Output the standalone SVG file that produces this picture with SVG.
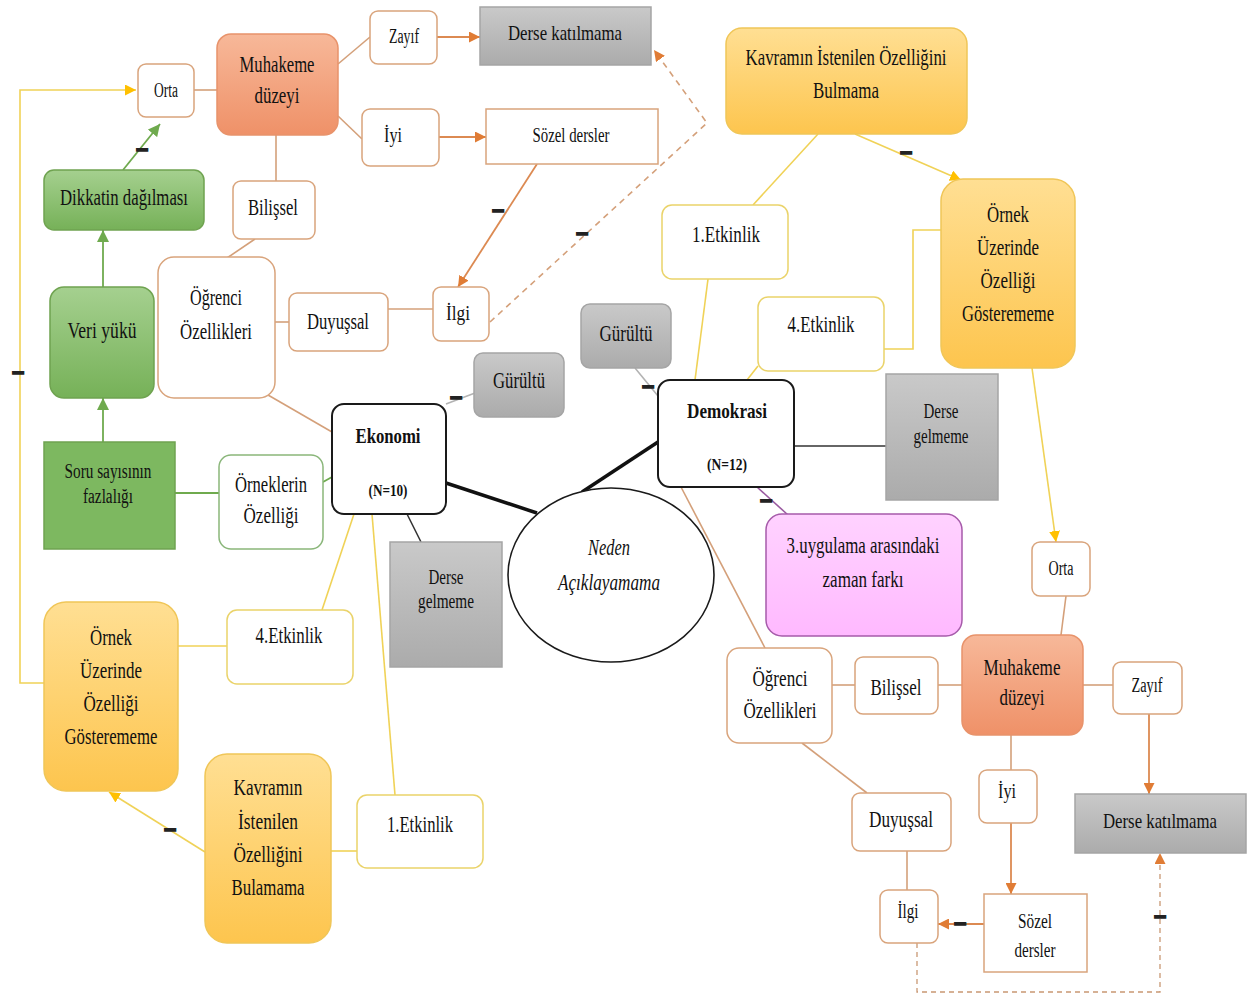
<svg xmlns="http://www.w3.org/2000/svg" width="1253" height="1001" viewBox="0 0 1253 1001">
  <defs>
    <linearGradient id="gold" x1="0" y1="0" x2="0" y2="1">
      <stop offset="0" stop-color="#FFDF93"/>
      <stop offset="1" stop-color="#FDC54E"/>
    </linearGradient>
    <linearGradient id="salmon" x1="0" y1="0" x2="0" y2="1">
      <stop offset="0" stop-color="#F7B899"/>
      <stop offset="1" stop-color="#EF9168"/>
    </linearGradient>
    <linearGradient id="gray" x1="0" y1="0" x2="0" y2="1">
      <stop offset="0" stop-color="#C9C9C9"/>
      <stop offset="1" stop-color="#ABABAB"/>
    </linearGradient>
    <linearGradient id="green" x1="0" y1="0" x2="0" y2="1">
      <stop offset="0" stop-color="#A5D08F"/>
      <stop offset="1" stop-color="#76B158"/>
    </linearGradient>
    <linearGradient id="pink" x1="0" y1="0" x2="0" y2="1">
      <stop offset="0" stop-color="#FFD2FF"/>
      <stop offset="1" stop-color="#FFB9FF"/>
    </linearGradient>
    <marker id="ao" viewBox="0 0 10 10" refX="10" refY="5" markerWidth="11" markerHeight="11" markerUnits="userSpaceOnUse" orient="auto">
      <path d="M0,0 L10,5 L0,10 z" fill="#E07C35"/>
    </marker>
    <marker id="ay" viewBox="0 0 10 10" refX="10" refY="5" markerWidth="11" markerHeight="11" markerUnits="userSpaceOnUse" orient="auto">
      <path d="M0,0 L10,5 L0,10 z" fill="#FFC000"/>
    </marker>
    <marker id="ag" viewBox="0 0 10 10" refX="10" refY="5" markerWidth="12" markerHeight="12" markerUnits="userSpaceOnUse" orient="auto">
      <path d="M0,0 L10,5 L0,10 z" fill="#6FAA4E"/>
    </marker>
    <style>
      .n { stroke-width: 1.5; }
      .w { fill: #fff; stroke: #D9A47C; }
      .y { fill: #fff; stroke: #EAD36A; }
      .gd { fill: url(#gold); stroke: #F0C658; }
      .sal { fill: url(#salmon); stroke: #E8936B; }
      .gr { fill: url(#gray); stroke: #A5A5A5; }
      .grn { fill: url(#green); stroke: #6FA350; }
      .grnf { fill: #7DB860; stroke: #6FA350; }
      .grnw { fill: #fff; stroke: #8AB67A; }
      .pk { fill: url(#pink); stroke: #A65BAA; }
      .k { fill: #fff; stroke: #1a1a1a; stroke-width: 2; }
      text { font-family: "Liberation Serif", "Times New Roman", serif; fill: #111; text-anchor: middle; }
      .t { font-size: 24px; }
      .tm { font-size: 22px; }
      .s { font-size: 20px; }
      .b { font-weight: bold; font-size: 22px; }
      .bs { font-weight: bold; font-size: 17px; }
      .i { font-style: italic; font-size: 23px; }
      .m { font-family: "Liberation Sans", Arial, sans-serif; font-size: 22px; font-weight: bold; fill: #222; stroke: #222; stroke-width: 1.4; }
      .c { fill: none; stroke-width: 1.6; }
      .tan { stroke: #D4A07A; }
      .or { stroke: #DC8A52; stroke-width: 1.8; }
      .yl { stroke: #F0D257; }
      .gn { stroke: #6FAA4E; stroke-width: 1.8; }
      .gy { stroke: #B3B3B3; }
      .bk { stroke: #111; stroke-width: 3.5; }
      .dk { stroke: #333; }
      .pu { stroke: #9A5AA0; }
      .ds { stroke: #D4A07A; stroke-dasharray: 6 5; }
      .ds2 { stroke: #C99873; stroke-width: 1.3; stroke-dasharray: 5 4; }
    </style>
  </defs>

  <rect width="1253" height="1001" fill="#fff"/>

  <!-- connectors -->
  <g id="connectors">
    <!-- left cluster -->
    <polyline class="c yl" points="44,683 20,683 20,90 136,90" marker-end="url(#ay)"/>
    <line class="c tan" x1="194" y1="90" x2="217" y2="90"/>
    <line class="c tan" x1="338" y1="64" x2="370" y2="37"/>
    <line class="c tan" x1="338" y1="116" x2="362" y2="139"/>
    <line class="c or" x1="437" y1="37" x2="480" y2="37" marker-end="url(#ao)"/>
    <line class="c or" x1="439" y1="137" x2="486" y2="137" marker-end="url(#ao)"/>
    <line class="c tan" x1="276" y1="135" x2="276" y2="181"/>
    <line class="c tan" x1="255" y1="239" x2="227" y2="258"/>
    <line class="c gn" x1="123" y1="170" x2="160" y2="124" marker-end="url(#ag)"/>
    <line class="c gn" x1="103" y1="287" x2="103" y2="230" marker-end="url(#ag)"/>
    <line class="c gn" x1="103" y1="442" x2="103" y2="398" marker-end="url(#ag)"/>
    <line class="c tan" x1="275" y1="322" x2="289" y2="322"/>
    <line class="c tan" x1="388" y1="309" x2="433" y2="309"/>
    <line class="c or" x1="537" y1="164" x2="458" y2="287" marker-end="url(#ao)"/>
    <polyline class="c ds" points="490,322 707,123 654,50" marker-end="url(#ao)"/>
    <line class="c tan" x1="268" y1="395" x2="332" y2="432"/>
    <line class="c gy" x1="446" y1="404" x2="475" y2="393"/>
    <line class="c gn" x1="175" y1="493" x2="219" y2="493"/>
    <line class="c gn" x1="323" y1="482" x2="332" y2="477"/>
    <line class="c dk" x1="407" y1="514" x2="421" y2="542"/>
    <line class="c bk" x1="446" y1="483" x2="537" y2="513"/>
    <line class="c yl" x1="354" y1="514" x2="322" y2="610"/>
    <line class="c yl" x1="372" y1="514" x2="395" y2="795"/>
    <line class="c yl" x1="178" y1="646" x2="227" y2="646"/>
    <line class="c yl" x1="205" y1="852" x2="109" y2="792" marker-end="url(#ay)"/>
    <line class="c yl" x1="331" y1="851" x2="357" y2="851"/>

    <!-- right cluster -->
    <line class="c bk" x1="658" y1="442" x2="582" y2="492"/>
    <line class="c yl" x1="818" y1="134" x2="753" y2="205"/>
    <line class="c yl" x1="855" y1="134" x2="961" y2="180" marker-end="url(#ay)"/>
    <polyline class="c yl" points="941,230 913,230 913,349 884,349"/>
    <line class="c yl" x1="708" y1="279" x2="695" y2="380"/>
    <line class="c yl" x1="758" y1="366" x2="747" y2="380"/>
    <line class="c gy" x1="635" y1="368" x2="658" y2="396"/>
    <line class="c dk" x1="794" y1="446" x2="886" y2="446"/>
    <line class="c pu" x1="757" y1="487" x2="788" y2="515"/>
    <line class="c tan" x1="681" y1="487" x2="765" y2="648"/>
    <line class="c yl" x1="1032" y1="368" x2="1056" y2="542" marker-end="url(#ay)"/>
    <line class="c tan" x1="1066" y1="596" x2="1061" y2="635"/>
    <line class="c tan" x1="832" y1="685" x2="855" y2="685"/>
    <line class="c tan" x1="938" y1="685" x2="962" y2="685"/>
    <line class="c tan" x1="1083" y1="685" x2="1113" y2="685"/>
    <line class="c or" x1="1149" y1="714" x2="1149" y2="794" marker-end="url(#ao)"/>
    <line class="c tan" x1="1011" y1="735" x2="1011" y2="770"/>
    <line class="c or" x1="1011" y1="823" x2="1011" y2="894" marker-end="url(#ao)"/>
    <line class="c tan" x1="802" y1="743" x2="867" y2="793"/>
    <line class="c tan" x1="907" y1="851" x2="907" y2="890"/>
    <line class="c or" x1="984" y1="924" x2="938" y2="924" marker-end="url(#ao)"/>
    <polyline class="c ds2" points="917,943 917,992 1160,992 1160,853" marker-end="url(#ao)"/>

    <!-- minus signs on links -->
    <text class="m" x="18" y="379">–</text>
    <text class="m" x="142" y="156">–</text>
    <text class="m" x="498" y="217">–</text>
    <text class="m" x="582" y="240">–</text>
    <text class="m" x="456" y="404">–</text>
    <text class="m" x="648" y="393">–</text>
    <text class="m" x="766" y="507">–</text>
    <text class="m" x="906" y="159">–</text>
    <text class="m" x="170" y="836">–</text>
    <text class="m" x="960" y="930">–</text>
    <text class="m" x="1160" y="923">–</text>
  </g>

  <!-- left cluster nodes -->
  <g id="orta-1"><rect class="n w" x="138" y="64" width="56" height="53" rx="8"/><text class="s" x="166" y="97" textLength="24" lengthAdjust="spacingAndGlyphs">Orta</text></g>
  <g id="muhakeme-1"><rect class="n sal" x="217" y="34" width="121" height="101" rx="14"/><text class="t" x="277" y="72" textLength="75" lengthAdjust="spacingAndGlyphs">Muhakeme</text><text class="t" x="277" y="103" textLength="45" lengthAdjust="spacingAndGlyphs">düzeyi</text></g>
  <g id="zayif-1"><rect class="n w" x="370" y="11" width="67" height="53" rx="8"/><text class="s" x="404" y="43" textLength="30" lengthAdjust="spacingAndGlyphs">Zayıf</text></g>
  <g id="derse-katilmama-1"><rect class="n gr" x="480" y="7" width="171" height="58"/><text class="tm" x="565" y="40" textLength="114" lengthAdjust="spacingAndGlyphs">Derse katılmama</text></g>
  <g id="iyi-1"><rect class="n w" x="362" y="109" width="77" height="57" rx="8"/><text class="s" x="393" y="142" textLength="18" lengthAdjust="spacingAndGlyphs">İyi</text></g>
  <g id="sozel-dersler-1"><rect class="n w" x="486" y="109" width="172" height="55"/><text class="s" x="571" y="142" textLength="77" lengthAdjust="spacingAndGlyphs">Sözel dersler</text></g>
  <g id="bilissel-1"><rect class="n w" x="233" y="181" width="82" height="58" rx="8"/><text class="t" x="273" y="215" textLength="50" lengthAdjust="spacingAndGlyphs">Bilişsel</text></g>
  <g id="dikkat"><rect class="n grn" x="44" y="170" width="160" height="60" rx="10"/><text class="t" x="124" y="205" textLength="128" lengthAdjust="spacingAndGlyphs">Dikkatin dağılması</text></g>
  <g id="veri-yuku"><rect class="n grn" x="50" y="287" width="104" height="111" rx="14"/><text class="t" x="102" y="338" textLength="69" lengthAdjust="spacingAndGlyphs">Veri yükü</text></g>
  <g id="ogrenci-1"><rect class="n w" x="158" y="257" width="117" height="141" rx="16"/><text class="t" x="216" y="305" textLength="52" lengthAdjust="spacingAndGlyphs">Öğrenci</text><text class="t" x="216" y="339" textLength="72" lengthAdjust="spacingAndGlyphs">Özellikleri</text></g>
  <g id="duyussal-1"><rect class="n w" x="289" y="293" width="99" height="58" rx="8"/><text class="t" x="338" y="329" textLength="62" lengthAdjust="spacingAndGlyphs">Duyuşsal</text></g>
  <g id="ilgi-1"><rect class="n w" x="433" y="287" width="56" height="54" rx="8"/><text class="s" x="458" y="320" textLength="24" lengthAdjust="spacingAndGlyphs">İlgi</text></g>
  <g id="gurultu-1"><rect class="n gr" x="474" y="353" width="90" height="64" rx="9"/><text class="t" x="519" y="388" textLength="52" lengthAdjust="spacingAndGlyphs">Gürültü</text></g>
  <g id="ekonomi"><rect class="n k" x="332" y="404" width="114" height="110" rx="12"/><text class="b" x="388" y="443" textLength="65" lengthAdjust="spacingAndGlyphs">Ekonomi</text><text class="bs" x="388" y="496" textLength="39" lengthAdjust="spacingAndGlyphs">(N=10)</text></g>
  <g id="soru-sayisi"><rect class="n grnf" x="44" y="442" width="131" height="107"/><text class="s" x="108" y="478" textLength="87" lengthAdjust="spacingAndGlyphs">Soru sayısının</text><text class="s" x="108" y="503" textLength="50" lengthAdjust="spacingAndGlyphs">fazlalığı</text></g>
  <g id="orneklerin-ozelligi"><rect class="n grnw" x="219" y="455" width="104" height="94" rx="12"/><text class="t" x="271" y="492" textLength="72" lengthAdjust="spacingAndGlyphs">Örneklerin</text><text class="t" x="271" y="523" textLength="55" lengthAdjust="spacingAndGlyphs">Özelliği</text></g>
  <g id="derse-gelmeme-1"><rect class="n gr" x="390" y="542" width="112" height="125"/><text class="s" x="446" y="584" textLength="35" lengthAdjust="spacingAndGlyphs">Derse</text><text class="s" x="446" y="608" textLength="56" lengthAdjust="spacingAndGlyphs">gelmeme</text></g>
  <g id="neden"><ellipse class="n k" cx="611" cy="575" rx="103" ry="87" style="stroke-width:1.6"/><text class="i" x="609" y="555" textLength="42" lengthAdjust="spacingAndGlyphs">Neden</text><text class="i" x="609" y="590" textLength="102" lengthAdjust="spacingAndGlyphs">Açıklayamama</text></g>
  <g id="ornek-1"><rect class="n gd" x="44" y="602" width="134" height="189" rx="22"/><text class="t" x="111" y="645" textLength="42" lengthAdjust="spacingAndGlyphs">Örnek</text><text class="t" x="111" y="678" textLength="62" lengthAdjust="spacingAndGlyphs">Üzerinde</text><text class="t" x="111" y="711" textLength="55" lengthAdjust="spacingAndGlyphs">Özelliği</text><text class="t" x="111" y="744" textLength="93" lengthAdjust="spacingAndGlyphs">Gösterememe</text></g>
  <g id="etkinlik4-1"><rect class="n y" x="227" y="610" width="126" height="74" rx="10"/><text class="t" x="289" y="643" textLength="67" lengthAdjust="spacingAndGlyphs">4.Etkinlik</text></g>
  <g id="kavram-1"><rect class="n gd" x="205" y="754" width="126" height="189" rx="22"/><text class="t" x="268" y="795" textLength="69" lengthAdjust="spacingAndGlyphs">Kavramın</text><text class="t" x="268" y="829" textLength="60" lengthAdjust="spacingAndGlyphs">İstenilen</text><text class="t" x="268" y="862" textLength="69" lengthAdjust="spacingAndGlyphs">Özelliğini</text><text class="t" x="268" y="895" textLength="73" lengthAdjust="spacingAndGlyphs">Bulamama</text></g>
  <g id="etkinlik1-1"><rect class="n y" x="357" y="795" width="126" height="73" rx="10"/><text class="t" x="420" y="832" textLength="66" lengthAdjust="spacingAndGlyphs">1.Etkinlik</text></g>

  <!-- right cluster nodes -->
  <g id="kavram-2"><rect class="n gd" x="726" y="28" width="241" height="106" rx="16"/><text class="t" x="846" y="65" textLength="201" lengthAdjust="spacingAndGlyphs">Kavramın İstenilen Özelliğini</text><text class="t" x="846" y="98" textLength="66" lengthAdjust="spacingAndGlyphs">Bulmama</text></g>
  <g id="etkinlik1-2"><rect class="n y" x="662" y="205" width="126" height="74" rx="10"/><text class="t" x="726" y="242" textLength="68" lengthAdjust="spacingAndGlyphs">1.Etkinlik</text></g>
  <g id="ornek-2"><rect class="n gd" x="941" y="179" width="134" height="189" rx="22"/><text class="t" x="1008" y="222" textLength="42" lengthAdjust="spacingAndGlyphs">Örnek</text><text class="t" x="1008" y="255" textLength="62" lengthAdjust="spacingAndGlyphs">Üzerinde</text><text class="t" x="1008" y="288" textLength="55" lengthAdjust="spacingAndGlyphs">Özelliği</text><text class="t" x="1008" y="321" textLength="92" lengthAdjust="spacingAndGlyphs">Gösterememe</text></g>
  <g id="etkinlik4-2"><rect class="n y" x="758" y="297" width="126" height="74" rx="10"/><text class="t" x="821" y="332" textLength="67" lengthAdjust="spacingAndGlyphs">4.Etkinlik</text></g>
  <g id="gurultu-2"><rect class="n gr" x="581" y="304" width="90" height="64" rx="9"/><text class="t" x="626" y="341" textLength="53" lengthAdjust="spacingAndGlyphs">Gürültü</text></g>
  <g id="demokrasi"><rect class="n k" x="658" y="380" width="136" height="107" rx="12"/><text class="b" x="727" y="418" textLength="80" lengthAdjust="spacingAndGlyphs">Demokrasi</text><text class="bs" x="727" y="470" textLength="40" lengthAdjust="spacingAndGlyphs">(N=12)</text></g>
  <g id="derse-gelmeme-2"><rect class="n gr" x="886" y="374" width="112" height="126"/><text class="s" x="941" y="418" textLength="35" lengthAdjust="spacingAndGlyphs">Derse</text><text class="s" x="941" y="443" textLength="55" lengthAdjust="spacingAndGlyphs">gelmeme</text></g>
  <g id="uygulama-zaman"><rect class="n pk" x="766" y="514" width="196" height="122" rx="16"/><text class="t" x="863" y="553" textLength="153" lengthAdjust="spacingAndGlyphs">3.uygulama arasındaki</text><text class="t" x="863" y="587" textLength="81" lengthAdjust="spacingAndGlyphs">zaman farkı</text></g>
  <g id="orta-2"><rect class="n w" x="1032" y="542" width="58" height="54" rx="8"/><text class="s" x="1061" y="575" textLength="25" lengthAdjust="spacingAndGlyphs">Orta</text></g>
  <g id="ogrenci-2"><rect class="n w" x="727" y="648" width="105" height="95" rx="12"/><text class="t" x="780" y="686" textLength="55" lengthAdjust="spacingAndGlyphs">Öğrenci</text><text class="t" x="780" y="718" textLength="73" lengthAdjust="spacingAndGlyphs">Özellikleri</text></g>
  <g id="bilissel-2"><rect class="n w" x="855" y="657" width="83" height="57" rx="8"/><text class="t" x="896" y="695" textLength="51" lengthAdjust="spacingAndGlyphs">Bilişsel</text></g>
  <g id="muhakeme-2"><rect class="n sal" x="962" y="635" width="121" height="100" rx="14"/><text class="t" x="1022" y="675" textLength="77" lengthAdjust="spacingAndGlyphs">Muhakeme</text><text class="t" x="1022" y="705" textLength="45" lengthAdjust="spacingAndGlyphs">düzeyi</text></g>
  <g id="zayif-2"><rect class="n w" x="1113" y="662" width="69" height="52" rx="8"/><text class="s" x="1147" y="692" textLength="31" lengthAdjust="spacingAndGlyphs">Zayıf</text></g>
  <g id="iyi-2"><rect class="n w" x="979" y="770" width="58" height="53" rx="8"/><text class="s" x="1007" y="798" textLength="18" lengthAdjust="spacingAndGlyphs">İyi</text></g>
  <g id="derse-katilmama-2"><rect class="n gr" x="1075" y="794" width="171" height="59"/><text class="tm" x="1160" y="828" textLength="114" lengthAdjust="spacingAndGlyphs">Derse katılmama</text></g>
  <g id="duyussal-2"><rect class="n w" x="852" y="793" width="99" height="58" rx="8"/><text class="t" x="901" y="827" textLength="64" lengthAdjust="spacingAndGlyphs">Duyuşsal</text></g>
  <g id="ilgi-2"><rect class="n w" x="880" y="890" width="58" height="53" rx="8"/><text class="s" x="908" y="918" textLength="21" lengthAdjust="spacingAndGlyphs">İlgi</text></g>
  <g id="sozel-dersler-2"><rect class="n w" x="984" y="894" width="103" height="78"/><text class="s" x="1035" y="928" textLength="34" lengthAdjust="spacingAndGlyphs">Sözel</text><text class="s" x="1035" y="957" textLength="41" lengthAdjust="spacingAndGlyphs">dersler</text></g>
</svg>
